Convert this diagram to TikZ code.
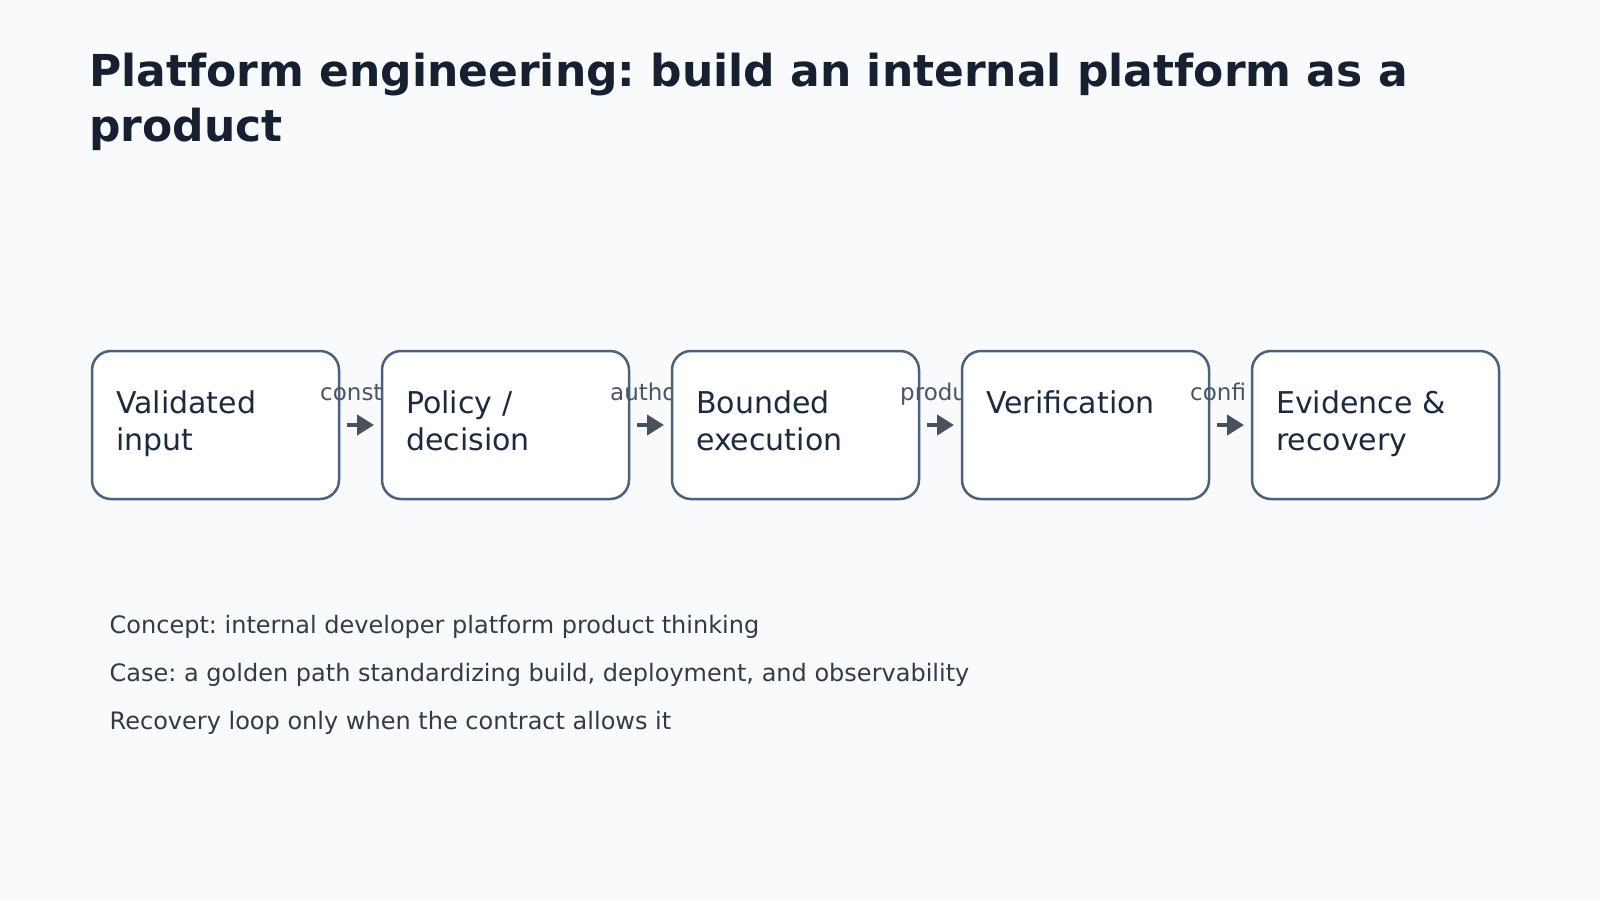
\documentclass[tikz,border=0pt]{standalone}
\usepackage{fontspec}
\setmainfont{DejaVu Sans}
\usetikzlibrary{arrows.meta}
\frenchspacing
\definecolor{bgc}{HTML}{F8FAFC}
\definecolor{titlec}{HTML}{172030}
\definecolor{boxline}{HTML}{4A6180}
\definecolor{boxtext}{HTML}{1C2A3E}
\definecolor{lblc}{HTML}{4B5563}
\definecolor{arrc}{HTML}{4A505C}
\definecolor{notec}{HTML}{343B47}
\begin{document}
\begin{tikzpicture}[x=1pt,y=-1pt,
 stage/.style={draw=boxline, line width=2.5pt, fill=white, rounded corners=19pt, minimum width=247pt, minimum height=148pt, inner sep=0pt, outer sep=0pt},
 stagetext/.style={anchor=base west, inner sep=0pt, align=left, text=boxtext, font=\fontsize{30}{37.5}\selectfont},
 edgelabel/.style={anchor=base west, inner sep=0pt, text=lblc, font=\fontsize{23}{27}\selectfont},
 flow/.style={draw=arrc, line width=4.5pt, -{Triangle[length=17pt,width=20pt]}, shorten <=8pt, shorten >=8pt},
 note/.style={anchor=base west, inner sep=0pt, text=notec, font=\fontsize{24}{29}\selectfont},
 titlestyle/.style={anchor=base west, inner sep=0pt, align=left, text=titlec, font=\fontsize{44}{55}\selectfont\bfseries},
]
\fill[bgc] (0,0) rectangle (1600,900);
\useasboundingbox (0,0) rectangle (1600,900);

% base anchor of a multi-line node = baseline of its last line
\node[titlestyle] (title) at (89,141.7) {Platform engineering: build an internal platform as a\\product};

\node[stage] (b1) at (215.5,425) {};
\node[stagetext] (t1) at (116,450.5) {Validated\\input};
\node[edgelabel] (l1) at (320,400) {const};

\node[stage] (b2) at (505.5,425) {};
\node[stagetext] (t2) at (406,450.5) {Policy /\\decision};
\node[edgelabel] (l2) at (610,400) {autho};

\node[stage] (b3) at (795.5,425) {};
\node[stagetext] (t3) at (696,450.5) {Bounded\\execution};
\node[edgelabel] (l3) at (900,400) {produ};

\node[stage] (b4) at (1085.5,425) {};
\node[stagetext] (t4) at (986,413) {Verification};
\node[edgelabel] (l4) at (1190,400) {confi};

\node[stage] (b5) at (1375.5,425) {};
\node[stagetext] (t5) at (1276,450.5) {Evidence \&\\recovery};

\draw[flow] (b1.east) -- (b2.west);
\draw[flow] (b2.east) -- (b3.west);
\draw[flow] (b3.east) -- (b4.west);
\draw[flow] (b4.east) -- (b5.west);

\node[note] (n1) at (109.5,633.3) {Concept: internal developer platform product thinking};
\node[note] (n2) at (109.5,681) {Case: a golden path standardizing build, deployment, and observability};
\node[note] (n3) at (109.5,729.3) {Recovery loop only when the contract allows it};
\end{tikzpicture}
\end{document}
